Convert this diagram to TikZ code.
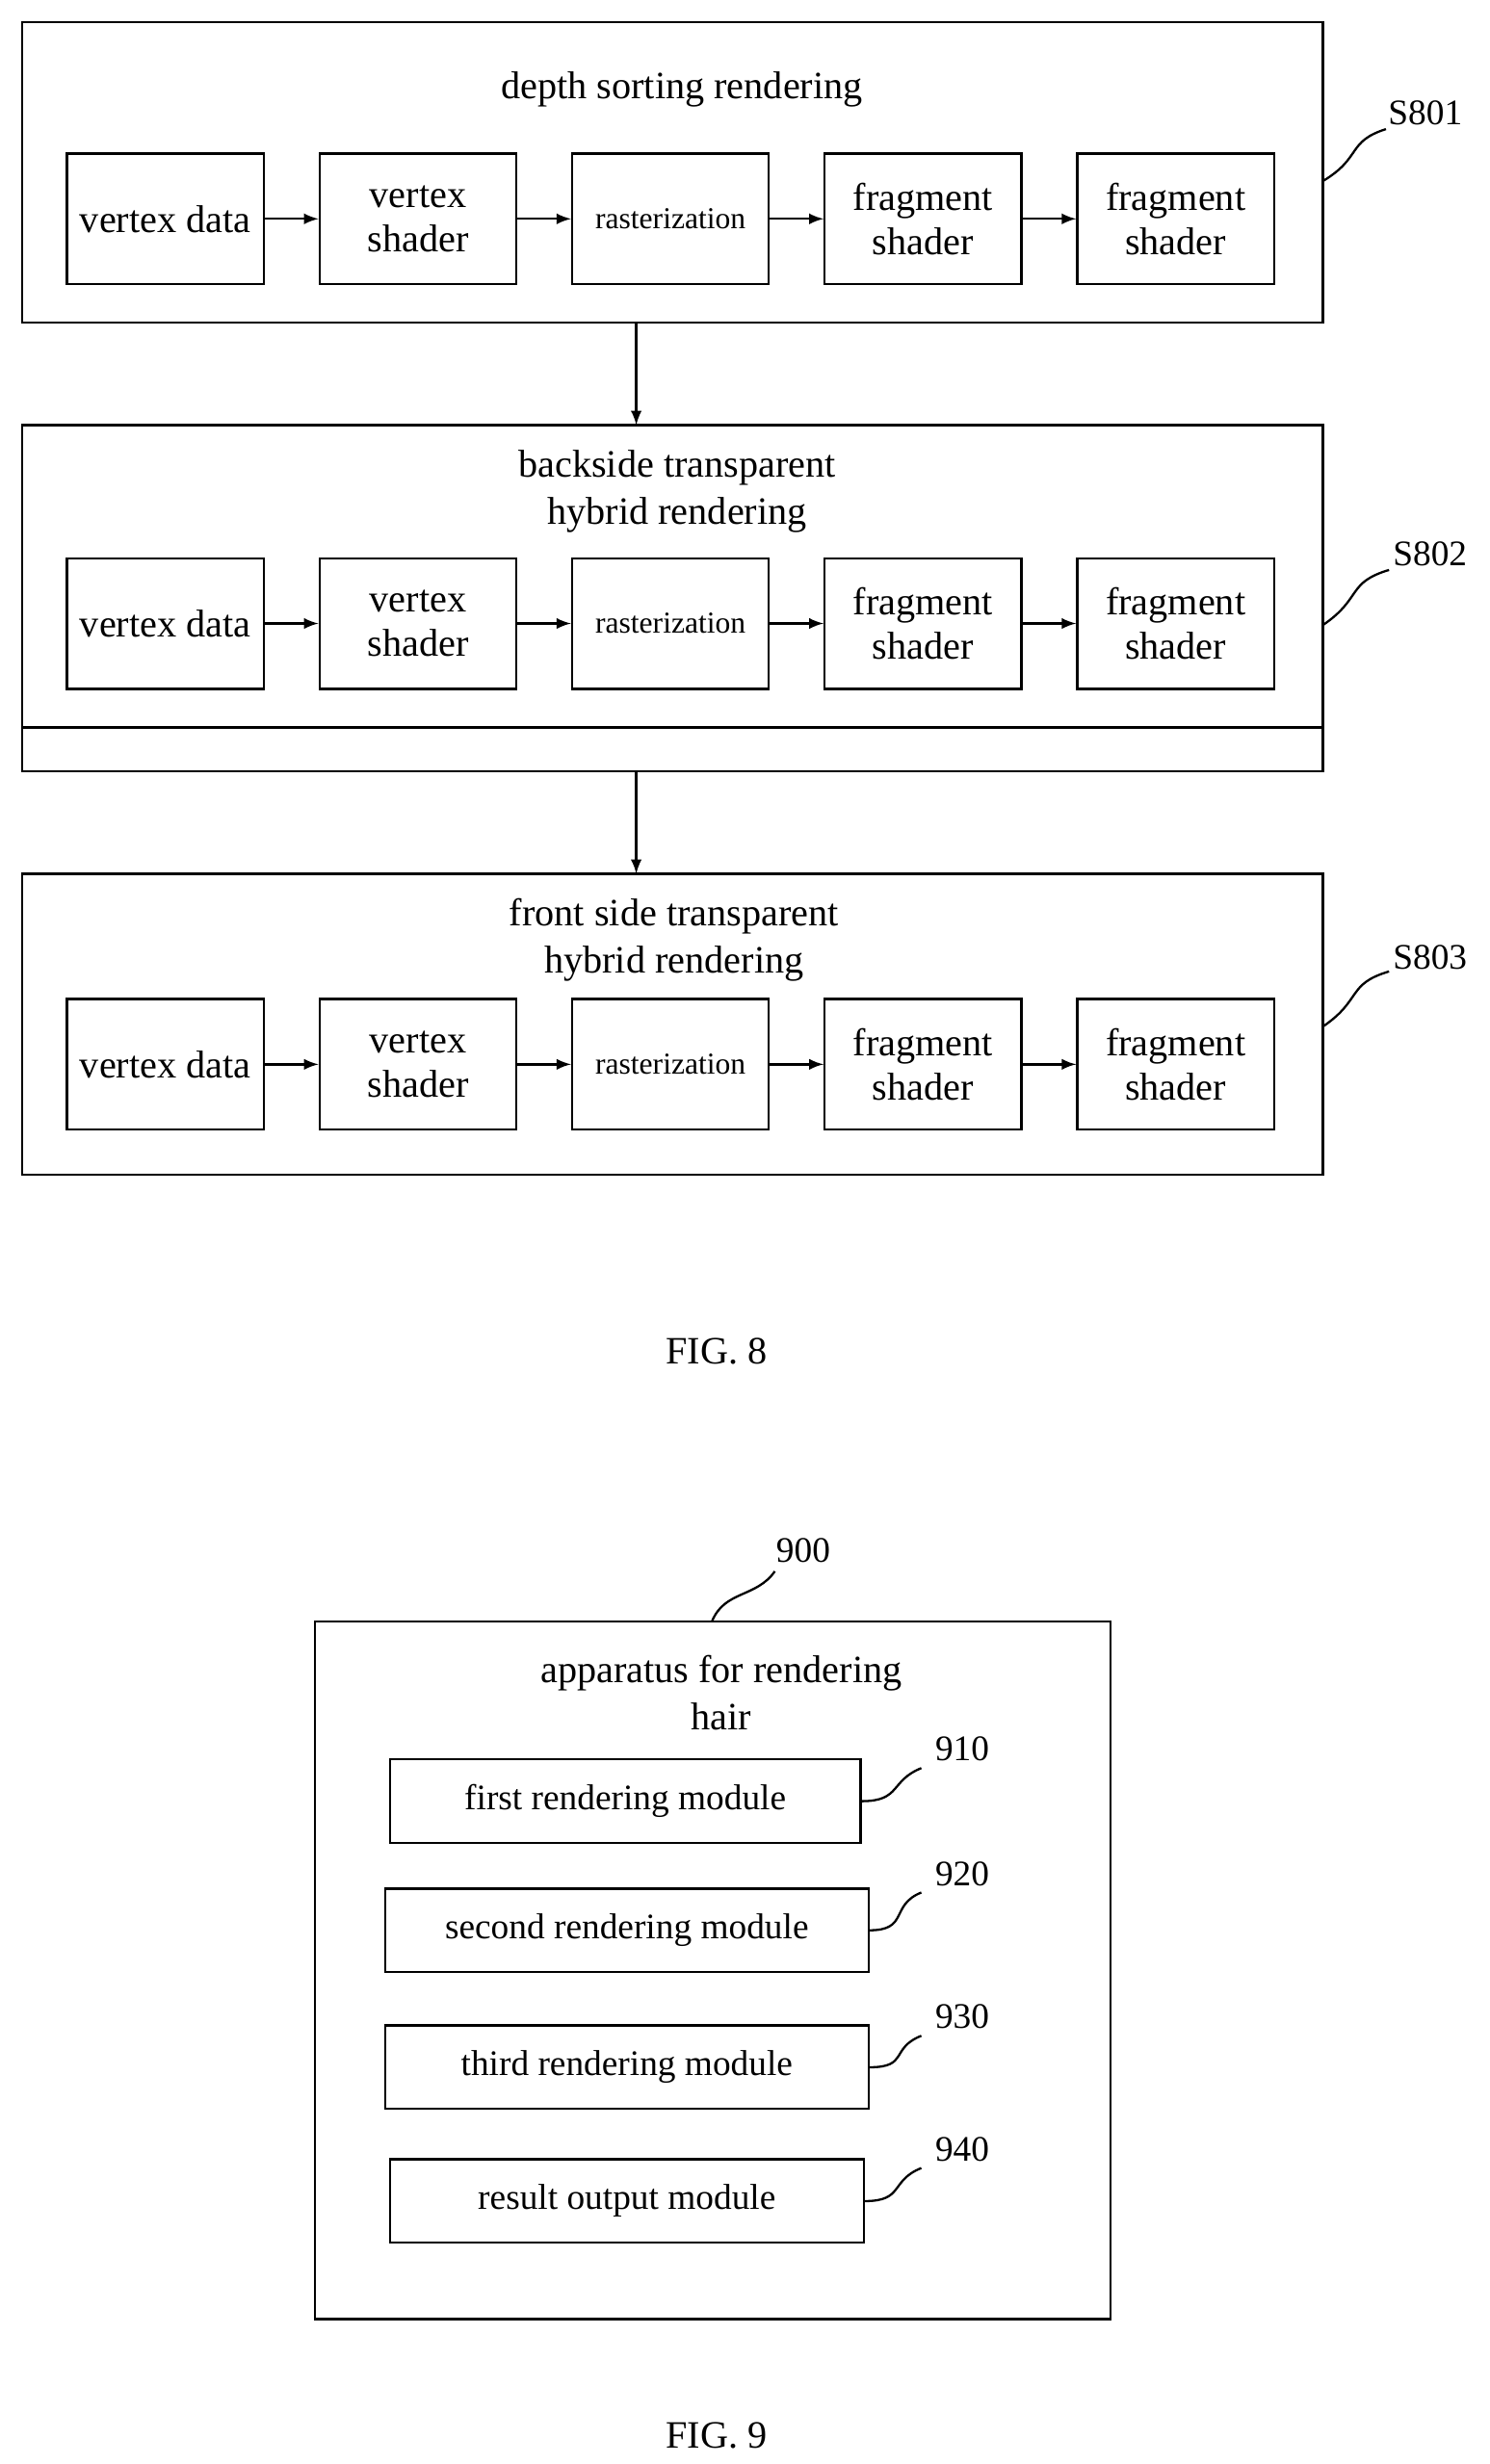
\documentclass[tikz,border=0pt]{standalone}
\usepackage{fontspec}
\setmainfont{Liberation Serif}
\usetikzlibrary{positioning}

\tikzset{
  stage/.style={draw, thick, minimum width=2.5cm, minimum height=1.66cm, align=center, inner sep=1pt, font=\fontsize{14}{16}\selectfont},
  module/.style={draw, thick, minimum height=1.06cm, font=\fontsize{13}{15}\selectfont},
  flow/.style={thick, -latex},
  lead/.style={thick},
  txt/.style={font=\fontsize{14}{17}\selectfont, align=center}
}

\newcommand{\pipeline}[2]{%
  % one row of five stages
  \node[stage] (#1a) at (105,#2) {vertex data};
  \node[stage, right=0.68cm of #1a] (#1b) {vertex\\shader};
  \node[stage, right=0.68cm of #1b, font=\fontsize{11}{13}\selectfont] (#1c) {rasterization};
  \node[stage, right=0.68cm of #1c] (#1d) {fragment\\shader};
  \node[stage, right=0.68cm of #1d] (#1e) {fragment\\shader};
  \foreach \u/\v in {a/b, b/c, c/d, d/e}
    \draw[flow] (#1\u) -- (#1\v);
}

\begin{document}
\begin{tikzpicture}[x=0.02cm, y=-0.02cm]
    \useasboundingbox (0,0) rectangle (946,1565);

    % FIG. 8
    \draw[thick] (14,14) rectangle (840,205);
    \node[txt] (t1) at (433,57) {depth sorting rendering};
    \pipeline{p}{139}
    \coordinate (s1) at (840,115);
    \node[txt, font=\fontsize{13}{15}\selectfont] (l1) at (905,72) {S801};
    \draw[lead] (s1) .. controls (865,100) and (855,90) .. (880,82);

    \draw[thick] (14,270) rectangle (840,490);
    \draw[thick] (14,462) -- (840,462);
    \node[txt] (t2) at (430,312) {backside transparent\\hybrid rendering};
    \pipeline{q}{396}
    \node[txt, font=\fontsize{13}{15}\selectfont] (l2) at (908,352) {S802};
    \coordinate (s2) at (840,397);
    \draw[lead] (s2) .. controls (865,380) and (855,370) .. (882,362);

    \draw[thick] (14,555) rectangle (840,746);
    \node[txt] (t3) at (428,597) {front side transparent\\hybrid rendering};
    \pipeline{r}{676}
    \node[txt, font=\fontsize{13}{15}\selectfont] (l3) at (908,608) {S803};
    \coordinate (s3) at (840,652);
    \draw[lead] (s3) .. controls (865,635) and (855,625) .. (882,617);

    \coordinate (b1) at (404,205);
    \coordinate (c2) at (404,270);
    \coordinate (b2) at (404,490);
    \coordinate (c3) at (404,555);
    \draw[flow] (b1) -- (c2);
    \draw[flow] (b2) -- (c3);

    \node[txt] (f8) at (455,858) {FIG. 8};

    % FIG. 9
    \draw[thick] (200,1030) rectangle (705,1473);
    \node[txt] (app) at (458,1075) {apparatus for rendering\\hair};
    \node[txt, font=\fontsize{13}{15}\selectfont] (n900) at (510,985) {900};
    \coordinate (k0) at (452,1030);
    \draw[lead] (k0) .. controls (460,1010) and (480,1015) .. (492,998);

    \foreach \n/\x/\y/\w/\lab in {1/397/1144/5.98/first rendering module,
                                   2/398/1226/6.14/second rendering module,
                                   3/398/1313/6.14/third rendering module,
                                   4/398/1398/6.02/result output module} {
        \node[module, minimum width=\w cm] (m\n) at (\x,\y) {\lab};
    }
    \foreach \n/\lab/\y in {1/910/1111, 2/920/1190, 3/930/1281, 4/940/1365} {
        \node[txt, font=\fontsize{13}{15}\selectfont] (n\lab) at (611,\y) {\lab};
        \draw[lead] (m\n.east) .. controls ([xshift=0.5cm]m\n.east) and (565,\y+20) .. (585,\y+12);
    }

    \node[txt] (f9) at (455,1547) {FIG. 9};
\end{tikzpicture}
\end{document}
